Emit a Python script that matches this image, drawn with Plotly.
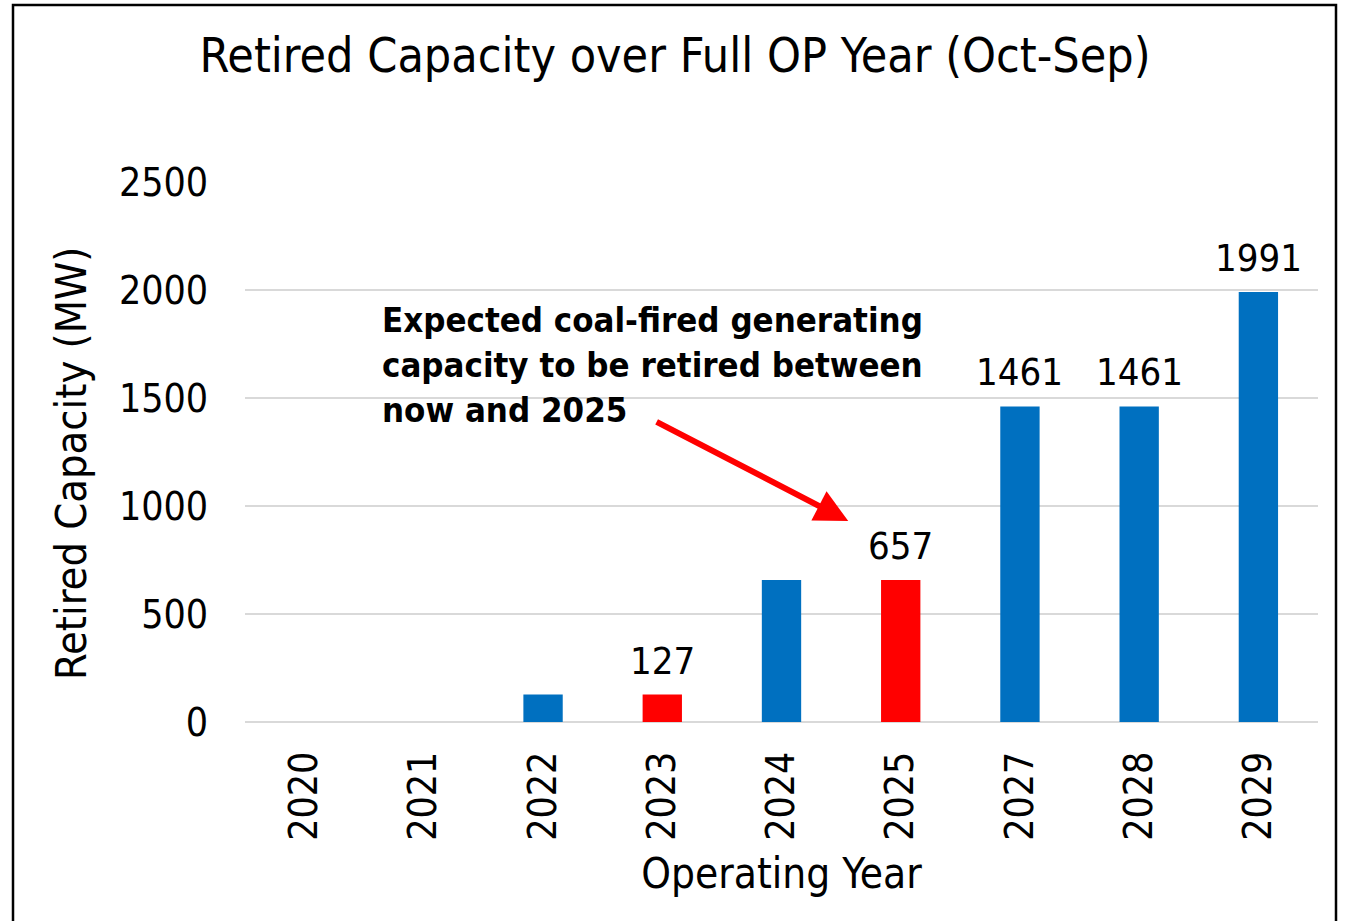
import plotly.graph_objects as go

years = ["2020", "2021", "2022", "2023", "2024", "2025", "2027", "2028", "2029"]
capacity = [0, 0, 127, 127, 657, 657, 1461, 1461, 1991]
bar_colors = ["#0070C0", "#0070C0", "#0070C0", "#FF0000", "#0070C0", "#FF0000", "#0070C0", "#0070C0", "#0070C0"]
shown_labels = ["", "", "", "127", "", "657", "1461", "1461", "1991"]

FONT = "DejaVu Sans Condensed, DejaVu Sans, sans-serif"

W, H = 1345, 921
L, R, T, B = 245, 27, 182, 199
pw, ph = W - L - R, H - T - B

def px(x):
    return (x - L) / pw

def py(y):
    return (H - B - y) / ph

fig = go.Figure()
fig.add_trace(go.Bar(
    x=years, y=capacity, marker=dict(color=bar_colors, line=dict(width=0)),
    width=0.33,
))

for i, (val, lab) in enumerate(zip(capacity, shown_labels)):
    if lab:
        fig.add_annotation(x=i, y=val, xref="x", yref="y", text=lab, showarrow=False,
                           yanchor="bottom", yshift=10,
                           font=dict(size=38, color="black", family=FONT))

fig.update_layout(
    width=W, height=H,
    margin=dict(l=L, r=R, t=T, b=B, pad=0),
    paper_bgcolor="white", plot_bgcolor="white",
    font=dict(family=FONT, color="black"),
    showlegend=False,
    title=dict(text="Retired Capacity over Full OP Year (Oct-Sep)", x=675 / W, xanchor="center",
               y=1 - 55 / H, yanchor="middle", font=dict(size=48, family=FONT, color="black")),
    xaxis=dict(type="category", categoryorder="array", categoryarray=years, range=[-0.5, len(years) - 0.5],
               tickangle=-90, tickfont=dict(size=39), ticks="outside", ticklen=13,
               tickcolor="rgba(0,0,0,0)", showgrid=False, showline=False,
               title=dict(text="Operating Year", font=dict(size=42), standoff=18)),
    yaxis=dict(range=[0, 2500], tickvals=[0, 500, 1000, 1500, 2000, 2500], tickfont=dict(size=39),
               ticks="outside", ticklen=28, tickcolor="rgba(0,0,0,0)",
               showgrid=True, gridcolor="#D9D9D9", gridwidth=2, zeroline=True, zerolinecolor="#D9D9D9",
               zerolinewidth=2, showline=False),
)

fig.add_annotation(xref="paper", yref="paper", x=px(71), y=py(464), xanchor="center", yanchor="middle",
                   textangle=-90, showarrow=False, text="Retired Capacity (MW)",
                   font=dict(size=43, family=FONT, color="black"))

fig.add_shape(type="rect", xref="paper", yref="paper", x0=px(13), x1=px(1336), y0=py(960), y1=py(5),
              line=dict(color="black", width=2.5), fillcolor="rgba(0,0,0,0)", layer="below")

fig.add_annotation(xref="paper", yref="paper", x=px(380), y=py(298), xanchor="left", yanchor="top",
                   align="left", showarrow=False,
                   text="<b>Expected coal-fired generating<br>capacity to be retired between<br>now and 2025</b>",
                   font=dict(size=34.5, family=FONT, color="black"))

fig.add_annotation(x=4.56, y=930, ax=2.94, ay=1393, xref="x", yref="y", axref="x", ayref="y",
                   showarrow=True, arrowhead=2, arrowsize=1.1, arrowwidth=6, arrowcolor="#FF0000", text="")

fig.write_html("out.html", config={"displayModeBar": False},
               post_script="document.body.style.margin='0px';")
